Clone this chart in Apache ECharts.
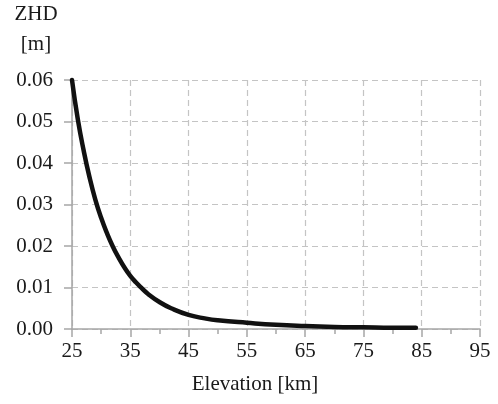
<!DOCTYPE html>
<html>
<head>
<meta charset="utf-8">
<script src="https://cdn.jsdelivr.net/npm/echarts@6/dist/echarts.min.js"></script>
<style>
html,body{margin:0;padding:0;background:#fff;}
#chart{width:498px;height:404px;}
</style>
</head>
<body>
<div id="chart"></div>
<script>
// Elevation [km]
var elevation = [25, 26, 27, 28, 29, 30, 31, 32, 33, 34, 35, 36, 37, 38, 40, 42, 45, 48, 50, 55, 60, 65, 70, 75, 80, 84];
// ZHD [m]
var zhd = [0.0600, 0.0505, 0.0430, 0.0366, 0.0312, 0.0268, 0.0231, 0.0199, 0.0172, 0.0148, 0.0128, 0.0112, 0.0098, 0.0085, 0.0065, 0.0050, 0.0034, 0.0025, 0.0021, 0.0015, 0.0010, 0.0007, 0.0005, 0.0004, 0.0003, 0.0003];
var xTickLabels = [25, 35, 45, 55, 65, 75, 85, 95];
var yTickLabels = ['0.00', '0.01', '0.02', '0.03', '0.04', '0.05', '0.06'];

var xStart = xTickLabels[0];
var seriesData = elevation.map(function (e, i) { return [e - xStart, zhd[i]]; });

var font = '"Liberation Serif", "Times New Roman", "DejaVu Serif", serif';
var chart = echarts.init(document.getElementById('chart'), null, {renderer: 'canvas'});
chart.setOption({
  backgroundColor: '#ffffff',
  animation: false,
  grid: {left: 72, right: 18, top: 80, bottom: 75, containLabel: false},
  xAxis: {
    type: 'value',
    min: 0,
    max: xTickLabels[xTickLabels.length - 1] - xStart,
    interval: 10,
    axisLine: {show: true, lineStyle: {color: '#a6a6a6', width: 1.5}},
    axisTick: {show: true, length: 8, lineStyle: {color: '#a6a6a6', width: 1.5}},
    minorTick: {show: true, splitNumber: 2, length: 5, lineStyle: {color: '#a6a6a6', width: 1.5}},
    splitLine: {show: true, lineStyle: {color: '#c4c4c4', type: [6, 4], width: 1.2}},
    axisLabel: {
      margin: 12, color: '#1a1a1a', fontFamily: font, fontSize: 21,
      formatter: function (v) { return String(v + xStart); }
    }
  },
  yAxis: {
    type: 'value',
    min: 0,
    max: 0.06,
    interval: 0.01,
    axisLine: {show: true, lineStyle: {color: '#a6a6a6', width: 1.5}},
    axisTick: {show: true, length: 8, lineStyle: {color: '#a6a6a6', width: 1.5}},
    splitLine: {show: true, lineStyle: {color: '#c4c4c4', type: [6, 4], width: 1.2}},
    axisLabel: {
      margin: 19, color: '#1a1a1a', fontFamily: font, fontSize: 21,
      formatter: function (v) { return yTickLabels[Math.round(v * 100)]; }
    }
  },
  graphic: [
    {type: 'text', x: 36, y: 3.5, style: {text: 'ZHD', fill: '#1a1a1a', fontFamily: font, fontSize: 21, textAlign: 'center', textVerticalAlign: 'top'}},
    {type: 'text', x: 36, y: 34, style: {text: '[m]', fill: '#1a1a1a', fontFamily: font, fontSize: 21, textAlign: 'center', textVerticalAlign: 'top'}},
    {type: 'text', x: 255, y: 374, style: {text: 'Elevation [km]', fill: '#1a1a1a', fontFamily: font, fontSize: 21, textAlign: 'center', textVerticalAlign: 'top'}}
  ],
  series: [{
    type: 'line',
    data: seriesData,
    smooth: true,
    showSymbol: false,
    lineStyle: {color: '#111111', width: 4.5, cap: 'round'},
    clip: false
  }]
});
</script>
</body>
</html>
